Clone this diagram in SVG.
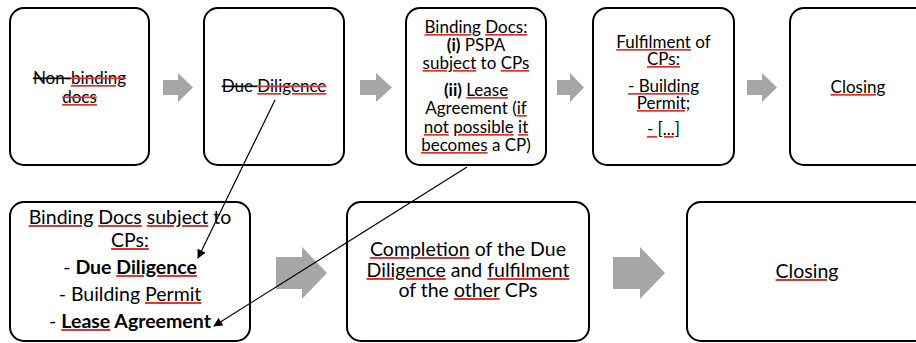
<svg xmlns="http://www.w3.org/2000/svg" width="916" height="343" viewBox="0 0 916 343">
<style>
.box{fill:#fff;stroke:#000;stroke-width:2}
.ga{fill:#a6a6a6}
.t{font-family:Lato,"Open Sans","Liberation Sans",sans-serif;fill:#000;text-anchor:middle}
.s{font-size:17px}
.l{font-size:19.5px}
.b{font-weight:bold}
.st{text-decoration:line-through}
.u{text-decoration:underline;fill:#e03030}
.k{fill:#000}
.con{stroke:#000;stroke-width:1.2;fill:none}
</style>
<defs>
<marker id="ah" viewBox="0 0 10 10" refX="9" refY="5" markerWidth="10" markerHeight="9" markerUnits="userSpaceOnUse" orient="auto"><path d="M0,0 L10,5 L0,10 z" fill="#000"/></marker>
</defs>
<rect width="916" height="343" fill="#fff"/>

<g id="flow-arrows">
<polygon class="ga" points="163,80 178,80 178,73 193,87.5 178,102 178,95 163,95"/>
<polygon class="ga" points="360,80 376,80 376,73 392,87.5 376,102 376,95 360,95"/>
<polygon class="ga" points="557,80 570,80 570,73 584,87.5 570,102 570,95 557,95"/>
<polygon class="ga" points="747,80 762,80 762,73 777,87.5 762,102 762,95 747,95"/>
<polygon class="ga" points="276,257 302,257 302,247 327,273 302,299 302,289 276,289"/>
<polygon class="ga" points="613,257 640,257 640,247 665,273 640,299 640,289 613,289"/>
</g>

<g id="n1">
<rect class="box" x="10" y="8" width="139" height="157" rx="14"/>
<text class="t s st" x="79.5" y="84">Non-<tspan class="u"><tspan class="k">binding</tspan></tspan></text>
<text class="t s st" x="79.5" y="103"><tspan class="u"><tspan class="k">docs</tspan></tspan></text>
</g>

<g id="n2">
<rect class="box" x="204" y="8" width="140" height="157" rx="14"/>
<text class="t s st" x="274" y="92">Due <tspan class="u"><tspan class="k">Diligence</tspan></tspan></text>
</g>

<g id="n3">
<rect class="box" x="406" y="8" width="140" height="157" rx="14"/>
<text class="t s" x="476" y="33"><tspan class="u"><tspan class="k">Binding</tspan></tspan> <tspan class="u"><tspan class="k">Docs:</tspan></tspan></text>
<text class="t s" x="476" y="51"><tspan class="b">(i)</tspan> PSPA</text>
<text class="t s" x="476" y="69"><tspan class="u"><tspan class="k">subject</tspan></tspan> to <tspan class="u"><tspan class="k">CPs</tspan></tspan></text>
<text class="t s" x="476" y="96"><tspan class="b">(ii)</tspan> <tspan class="u"><tspan class="k">Lease</tspan></tspan></text>
<text class="t s" x="476" y="114">Agreement (<tspan class="u"><tspan class="k">if</tspan></tspan></text>
<text class="t s" x="476" y="133"><tspan class="u"><tspan class="k">not</tspan></tspan> <tspan class="u"><tspan class="k">possible</tspan></tspan> <tspan class="u"><tspan class="k">it</tspan></tspan></text>
<text class="t s" x="476" y="151"><tspan class="u"><tspan class="k">becomes</tspan></tspan> a CP)</text>
</g>

<g id="n4">
<rect class="box" x="593" y="8" width="141" height="157" rx="14"/>
<text class="t s" x="663.5" y="48"><tspan class="u"><tspan class="k">Fulfilment</tspan></tspan> of</text>
<text class="t s" x="663.5" y="65"><tspan class="u"><tspan class="k">CPs:</tspan></tspan></text>
<text class="t s" x="663.5" y="92"><tspan class="u"><tspan class="k">- Building</tspan></tspan></text>
<text class="t s" x="663.5" y="109"><tspan class="u"><tspan class="k">Permit;</tspan></tspan></text>
<text class="t s" x="663.5" y="135"><tspan class="u"><tspan class="k">- [...]</tspan></tspan></text>
</g>

<g id="n5">
<rect class="box" x="790" y="8" width="140" height="157" rx="14"/>
<text class="t s" x="858" y="93"><tspan class="u"><tspan class="k">Closing</tspan></tspan></text>
</g>

<g id="n6">
<rect class="box" x="10" y="202" width="240" height="139" rx="14"/>
<text class="t l" x="130" y="224"><tspan class="u"><tspan class="k">Binding</tspan></tspan> <tspan class="u"><tspan class="k">Docs</tspan></tspan> <tspan class="u"><tspan class="k">subject</tspan></tspan> to</text>
<text class="t l" x="130" y="247"><tspan class="u"><tspan class="k">CPs:</tspan></tspan></text>
<text class="t l" x="130" y="274">- <tspan class="b">Due <tspan class="u"><tspan class="k">Diligence</tspan></tspan></tspan></text>
<text class="t l" x="130" y="301">- Building <tspan class="u"><tspan class="k">Permit</tspan></tspan></text>
<text class="t l" x="130" y="328">- <tspan class="b"><tspan class="u"><tspan class="k">Lease</tspan></tspan> Agreement</tspan></text>
</g>

<g id="n7">
<rect class="box" x="347" y="202" width="242" height="139" rx="14"/>
<text class="t l" x="468" y="256"><tspan class="u"><tspan class="k">Completion</tspan></tspan> of the Due</text>
<text class="t l" x="468" y="277"><tspan class="u"><tspan class="k">Diligence</tspan></tspan> and <tspan class="u"><tspan class="k">fulfilment</tspan></tspan></text>
<text class="t l" x="468" y="297">of the <tspan class="u"><tspan class="k">other</tspan></tspan> CPs</text>
</g>

<g id="n8">
<rect class="box" x="687" y="202" width="240" height="139" rx="14"/>
<text class="t l" x="807" y="278"><tspan class="u"><tspan class="k">Closing</tspan></tspan></text>
</g>

<g id="connectors">
<line class="con" x1="275" y1="100" x2="198" y2="258" marker-end="url(#ah)"/>
<line class="con" x1="467" y1="167" x2="214" y2="326" marker-end="url(#ah)"/>
</g>
</svg>
